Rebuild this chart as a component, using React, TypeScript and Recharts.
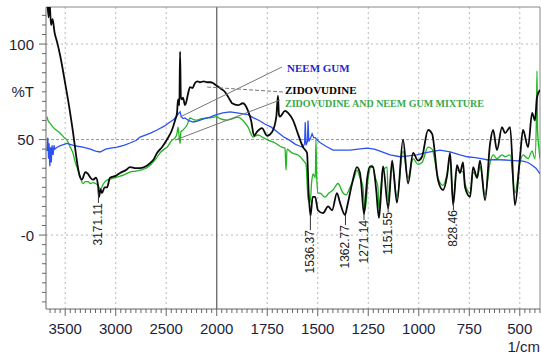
import React from "react";
import { LineChart, Line, XAxis, YAxis, ReferenceLine, ReferenceDot } from "recharts";

// [wavenumber (1/cm), %T]
const zidovudine: [number, number][] = [
  [3680, 126], [3665, 114], [3655, 122], [3640, 110], [3625, 113], [3605, 106], [3580, 101],
  [3550, 94], [3502, 80], [3460, 67], [3423, 54], [3390, 41], [3373, 35], [3350, 30],
  [3334, 29], [3300, 33], [3274, 32], [3250, 30], [3225, 29], [3195, 30], [3175, 26],
  [3165, 20], [3150, 24], [3136, 22], [3110, 25], [3086, 25], [3056, 30], [3000, 31],
  [2957, 32.5], [2900, 34], [2858, 35.6], [2800, 35], [2759, 35], [2700, 36], [2660, 37.7],
  [2620, 40], [2591, 43], [2542, 46], [2492, 50], [2443, 55], [2413, 60], [2393, 64],
  [2383, 71], [2370, 68], [2363, 96], [2355, 72], [2344, 71], [2334, 72], [2314, 68],
  [2300, 70], [2284, 74], [2264, 77.5], [2240, 77], [2215, 79.6], [2190, 80.5], [2165, 80],
  [2130, 80.5], [2096, 80], [2060, 80], [2037, 79.6], [2010, 78.5], [1984, 77], [1960, 75],
  [1949, 73.3], [1934, 70.7], [1924, 69], [1895, 68], [1870, 69], [1845, 65], [1830, 60],
  [1815, 52], [1801, 54], [1776, 56], [1751, 52], [1726, 54], [1705, 62], [1697, 73],
  [1692, 63], [1687, 62], [1662, 65], [1647, 64], [1622, 60], [1598, 53], [1573, 46],
  [1553, 43], [1545, 22], [1536, 10], [1525, 20], [1513, 20], [1499, 13], [1474, 11.5],
  [1449, 15], [1429, 13], [1405, 22], [1390, 17], [1365, 10.5], [1355, 14.7], [1330, 27],
  [1306, 35.6], [1291, 32.5], [1285, 27], [1271, 11], [1255, 30], [1241, 36], [1226, 35.6],
  [1212, 25], [1197, 9], [1185, 25], [1177, 36], [1151, 14], [1132, 39], [1108, 17],
  [1078, 50], [1053, 27], [1028, 43], [1004, 39], [984, 41], [954, 55], [934, 53], [905, 29],
  [880, 23.6], [860, 31], [845, 43], [830, 15.7], [811, 36.6], [796, 32.5], [781, 38],
  [771, 25], [746, 20], [731, 35.6], [711, 30], [697, 39], [672, 18.3], [647, 48], [632, 55],
  [613, 44.5], [588, 56.5], [573, 53.4], [548, 56.5], [524, 15.7], [499, 40.8], [484, 55],
  [459, 46], [439, 64], [425, 60], [415, 72], [400, 76],
];

const neemGum: [number, number][] = [
  [3680, 44], [3672, 51], [3665, 40], [3660, 48], [3652, 36], [3645, 46], [3638, 38],
  [3630, 47], [3620, 42], [3610, 47], [3601, 45], [3581, 46], [3540, 47], [3482, 48],
  [3420, 47], [3380, 46.5], [3324, 46], [3250, 45], [3200, 44], [3155, 43.5], [3100, 45],
  [3050, 45.5], [2987, 46], [2920, 47], [2858, 48.2], [2800, 49.5], [2759, 51.3], [2700, 52.5],
  [2650, 53.5], [2591, 55], [2520, 57], [2480, 58.5], [2433, 60.2], [2400, 62], [2380, 63.5],
  [2363, 64.5], [2350, 62], [2334, 61], [2314, 61.3], [2280, 60], [2235, 59.2], [2200, 59.5],
  [2165, 60.2], [2120, 61], [2066, 61.8], [2030, 62.5], [2000, 63], [1970, 64], [1934, 64.5],
  [1900, 64], [1870, 63.5], [1845, 63], [1820, 61.5], [1790, 60], [1760, 58], [1730, 56.5],
  [1700, 54], [1670, 51.5], [1640, 49.7], [1610, 47.5], [1588, 46.5], [1573, 46], [1565, 48],
  [1562, 59], [1558, 47], [1551, 49], [1548, 60], [1544, 49], [1535, 51], [1528, 53],
  [1520, 51], [1513, 51], [1500, 49.5], [1489, 48.5], [1460, 46.5], [1424, 44.5], [1390, 44.5],
  [1340, 44.5], [1300, 45], [1256, 45.5], [1220, 45], [1192, 44], [1142, 42], [1093, 41],
  [1050, 41.5], [1009, 42], [970, 43], [944, 43.5], [895, 44.5], [845, 43.5], [796, 42],
  [760, 41], [721, 40.5], [690, 40], [657, 39.3], [620, 39.5], [573, 39.3], [530, 39],
  [484, 38.7], [460, 38], [439, 36.6], [420, 35], [400, 32],
];

const mixture: [number, number][] = [
  [3680, 62], [3670, 60], [3650, 58.6], [3621, 56.5], [3590, 55], [3551, 53.4], [3510, 51],
  [3482, 49.7], [3450, 46], [3423, 43], [3400, 38], [3373, 34], [3350, 30], [3324, 27],
  [3300, 28], [3274, 28], [3250, 27], [3225, 27.5], [3200, 27], [3175, 26], [3150, 24],
  [3120, 27], [3086, 28.8], [3040, 29.5], [2987, 30.4], [2920, 31.5], [2858, 33], [2800, 33.5],
  [2759, 34], [2700, 35], [2660, 36.6], [2600, 40], [2561, 43], [2520, 45], [2492, 46],
  [2443, 49.7], [2410, 51], [2393, 53.4], [2383, 56.5], [2373, 52], [2363, 48], [2355, 54],
  [2334, 55], [2294, 57.6], [2264, 61.3], [2230, 60.5], [2195, 60.2], [2150, 61], [2096, 61.3],
  [2050, 61.5], [2000, 62], [1984, 61], [1949, 60.2], [1920, 61], [1895, 61.8], [1870, 60],
  [1845, 56.5], [1820, 51.3], [1796, 52.4], [1770, 51], [1746, 49.7], [1711, 48.2], [1677, 46],
  [1662, 45.5], [1657, 34], [1652, 45], [1627, 43], [1598, 41.9], [1573, 39.3], [1558, 37],
  [1548, 19], [1538, 17], [1530, 28], [1523, 32], [1512, 30], [1509, 50], [1505, 30],
  [1499, 22], [1489, 22], [1464, 19.9], [1445, 22], [1424, 23.6], [1400, 27], [1375, 22],
  [1360, 21], [1340, 25], [1320, 30], [1306, 34], [1291, 30], [1276, 25], [1266, 13],
  [1250, 30], [1231, 36.6], [1215, 30], [1202, 25], [1197, 14], [1180, 33], [1157, 35.6],
  [1151, 18], [1132, 36], [1108, 20], [1078, 44], [1053, 30], [1028, 40], [1004, 37],
  [984, 38], [954, 46], [934, 45], [905, 30], [880, 26], [860, 32], [845, 40], [830, 18],
  [811, 34], [781, 33], [771, 27], [746, 22], [731, 33], [711, 30], [697, 36], [672, 21],
  [647, 38], [632, 42], [613, 40], [588, 42], [573, 41], [548, 42], [524, 22], [499, 38],
  [484, 42], [459, 40], [439, 44], [425, 40], [418, 60], [415, 86], [412, 55], [405, 45],
  [400, 40],
];

const xMajorTicks = [3500, 3000, 2500, 2000, 1750, 1500, 1250, 1000, 750, 500];
const yMajorTicks = [100, 75, 50, 0];
const yTickLabels = ["100", "%T", "50", "-0"];

// [peak label, leader top %T, text top %T]
const peaks: [string, number, number][] = [
  ["3171.11", 22.5, 16.8],
  ["1536.37", 10.5, 2.6],
  ["1362.77", 10.5, 5.2],
  ["1271.14", 11.5, 7.9],
  ["1151.55", 15.7, 12],
  ["828.46", 16.8, 13.1],
];

const X_MAX = 3690;
const X_MIN = 400;
const Y_MIN = -38.7;
const Y_MAX = 119.4;

// spectrum is expanded 2x below 2000 1/cm
const toU = (wn: number) => (wn > 2000 ? 2000 + (wn - 2000) / 2 : wn);
const asPoints = (s: [number, number][]) => s.map(([wn, t]) => ({ u: toU(wn), t }));

const U_MAX = toU(X_MAX);
const xTicks: number[] = [];
for (let u = 400; u <= U_MAX; u += 25) xTicks.push(u);
const yTicks: number[] = [];
for (let v = -35; v <= 115; v += 5) yTicks.push(v);

const majorU = xMajorTicks.map(toU);
const tickColor = "#1e1e3c";
const tickFont = "'Liberation Sans', Arial, sans-serif";

function XTick(props: any) {
  const { x, y, payload } = props;
  const idx = majorU.indexOf(payload.value);
  return (
    <g>
      <line x1={x} x2={x} y1={y} y2={y + (idx >= 0 ? 7 : 4)} stroke="#666" strokeWidth={1} />
      {idx >= 0 && (
        <text x={x} y={y + 19} textAnchor="middle" dominantBaseline="central"
          fontSize={15} fontFamily={tickFont} fill={tickColor}>
          {xMajorTicks[idx]}
        </text>
      )}
    </g>
  );
}

function YTick(props: any) {
  const { x, y, payload } = props;
  const idx = yMajorTicks.indexOf(payload.value);
  const major = idx >= 0 && payload.value !== 75;
  return (
    <g>
      <line x1={x - (major ? 7 : 4)} x2={x} y1={y} y2={y} stroke="#666" strokeWidth={1} />
      {idx >= 0 && (
        <text x={x - 12} y={y} textAnchor="end" dominantBaseline="central"
          fontSize={15} fontFamily={tickFont} fill={tickColor}>
          {yTickLabels[idx]}
        </text>
      )}
    </g>
  );
}

const serif = "'Liberation Serif', 'Times New Roman', serif";

function textLabel(text: string, color: string, size: number) {
  return {
    content: (p: any) => (
      <text x={p.viewBox.x + 1} y={p.viewBox.y + 1} fontFamily={serif} fontWeight="bold"
        fontSize={size} fill={color}>
        {text}
      </text>
    ),
  };
}

function peakLabel(text: string) {
  return {
    content: (p: any) => {
      const cx = p.viewBox.x + 1;
      const cy = p.viewBox.y + 1;
      return (
        <text x={cx} y={cy} transform={`rotate(-90 ${cx} ${cy})`} textAnchor="end"
          dominantBaseline="central" fontSize={12} fontFamily={tickFont} fill="#222">
          {text}
        </text>
      );
    },
  };
}

const peakWn = (s: string) => toU(parseFloat(s));

export default function App() {
  return (
    <div style={{ position: "absolute", left: 0, top: 0, background: "#fff" }}>
      <LineChart width={541} height={358} margin={{ top: 7, right: 1, bottom: 0, left: 0 }}>
        <XAxis
          type="number"
          dataKey="u"
          domain={[X_MIN, U_MAX]}
          reversed
          allowDataOverflow
          ticks={xTicks}
          interval={0}
          tick={<XTick />}
          tickLine={false}
          tickSize={0}
          tickMargin={0}
          height={49}
          axisLine={{ stroke: "#666" }}
          label={{
            content: (p: any) => (
              <text x={p.viewBox.x + p.viewBox.width} y={p.viewBox.y + 37} textAnchor="end"
                dominantBaseline="central" fontSize={15} fontFamily={tickFont} fill={tickColor}>
                1/cm
              </text>
            ),
          }}
        />
        <YAxis
          type="number"
          domain={[Y_MIN, Y_MAX]}
          allowDataOverflow
          ticks={yTicks}
          interval={0}
          tick={<YTick />}
          tickLine={false}
          tickSize={0}
          tickMargin={0}
          width={46}
          axisLine={{ stroke: "#666" }}
        />

        {xMajorTicks.filter((wn) => wn !== 2000).map((wn) => (
          <ReferenceLine key={wn} x={toU(wn)} stroke="#b8b8b8" strokeDasharray="2 3" />
        ))}
        <ReferenceLine y={100} stroke="#b8b8b8" strokeDasharray="2 3" />
        <ReferenceLine y={50} stroke="#999" strokeDasharray="3 2" />
        <ReferenceLine y={0} stroke="#b8b8b8" strokeDasharray="2 3" />
        <ReferenceLine x={2000} stroke="#666" strokeWidth={1.3} />
        <ReferenceLine y={Y_MAX} stroke="#888" />
        <ReferenceLine x={X_MIN} stroke="#888" />

        <Line data={asPoints(mixture)} dataKey="t" stroke="#22b422" strokeWidth={1.3}
          dot={false} type="monotone" isAnimationActive={false} />
        <Line data={asPoints(neemGum)} dataKey="t" stroke="#2a52f0" strokeWidth={1.3}
          dot={false} type="linear" isAnimationActive={false} />
        <Line data={asPoints(zidovudine)} dataKey="t" stroke="#0a0a0a" strokeWidth={1.8}
          dot={false} type="monotone" isAnimationActive={false} />

        {/* legend leaders */}
        <ReferenceLine segment={[{ x: 1677, y: 88 }, { x: toU(2363), y: 61.8 }]} stroke="#777" />
        <ReferenceLine segment={[{ x: 1672, y: 74.9 }, { x: toU(2096), y: 77.5 }]} stroke="#777"
          strokeDasharray="4 2" />
        <ReferenceLine segment={[{ x: 1687, y: 70.7 }, { x: toU(2413), y: 49.7 }]} stroke="#777" />
        <ReferenceDot x={1652} y={85.3} r={1} fillOpacity={0} strokeOpacity={0}
          label={textLabel("NEEM GUM", "#2727c8", 11)} />
        <ReferenceDot x={1662} y={73.8} r={1} fillOpacity={0} strokeOpacity={0}
          label={textLabel("ZIDOVUDINE", "#000", 11)} />
        <ReferenceDot x={1662} y={67} r={1} fillOpacity={0} strokeOpacity={0}
          label={textLabel("ZIDOVUDINE AND NEEM GUM MIXTURE", "#3aa94a", 10)} />

        {/* peak labels */}
        {peaks.map(([text, top, bottom]) => (
          <ReferenceLine key={`l${text}`} segment={[{ x: peakWn(text), y: top }, { x: peakWn(text), y: bottom }]}
            stroke="#333" />
        ))}
        {peaks.map(([text, , bottom]) => (
          <ReferenceDot key={`d${text}`} x={peakWn(text)} y={bottom} r={1} fillOpacity={0}
            strokeOpacity={0} label={peakLabel(text)} />
        ))}
      </LineChart>
    </div>
  );
}
